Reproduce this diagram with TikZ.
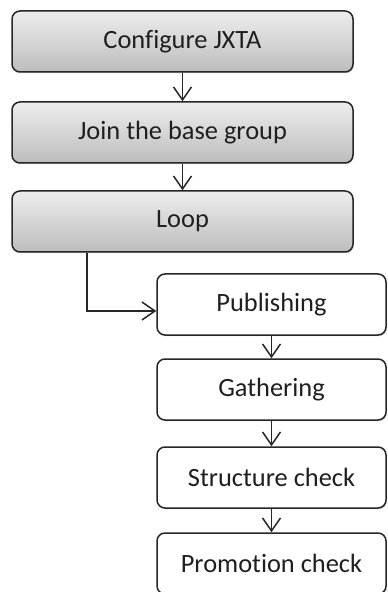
\documentclass[tikz,border=0pt]{standalone}
\usepackage{fontspec}
\setmainfont[Ligatures=NoCommon]{Carlito}
\usetikzlibrary{arrows.meta,shadows}
\begin{document}
\begin{tikzpicture}[x=0.5pt,y=-0.5pt,
  box/.style={draw=black!85, line width=0.75pt, rounded corners=4pt,
    minimum height=30.5pt, inner sep=0pt, font=\fontsize{13.2}{15}\selectfont,
    text=black!88, drop shadow={shadow xshift=0.4pt, shadow yshift=-0.6pt, opacity=0.35}},
  graybox/.style={box, minimum width=170.5pt, top color=black!7, bottom color=black!26},
  whitebox/.style={box, minimum width=114.5pt, fill=white},
  flow/.style={draw=black!85, line width=0.75pt,
    -{Straight Barb[length=6.5pt,width=9pt,line width=0.75pt]}}]
\clip (0,0) rectangle (387,592);
\useasboundingbox (0,0) rectangle (387,592);

% main sequence
\node[graybox] (cfg)  at (182.5,41.5)  {Configure JXTA};
\node[graybox] (join) at (182.5,132.5) {Join the base group};
\node[graybox] (loop) at (182.5,221.5) {Loop};

% loop body
\node[whitebox] (pub)    at (271.5,304.5) {Publishing};
\node[whitebox] (gath)   at (271.5,389.5) {Gathering};
\node[whitebox] (struct) at (271.5,477.5) {Structure check};
\node[whitebox] (promo)  at (271.5,563.5) {Promotion check};

\draw[flow] (cfg) -- (join);
\draw[flow] (join) -- (loop);

\coordinate (bend) at (87,311);
\draw[flow] (loop.south -| bend) |- (pub.west |- bend);

\draw[flow] (pub) -- (gath);
\draw[flow] (gath) -- (struct);
\draw[flow] (struct) -- (promo);
\end{tikzpicture}
\end{document}
